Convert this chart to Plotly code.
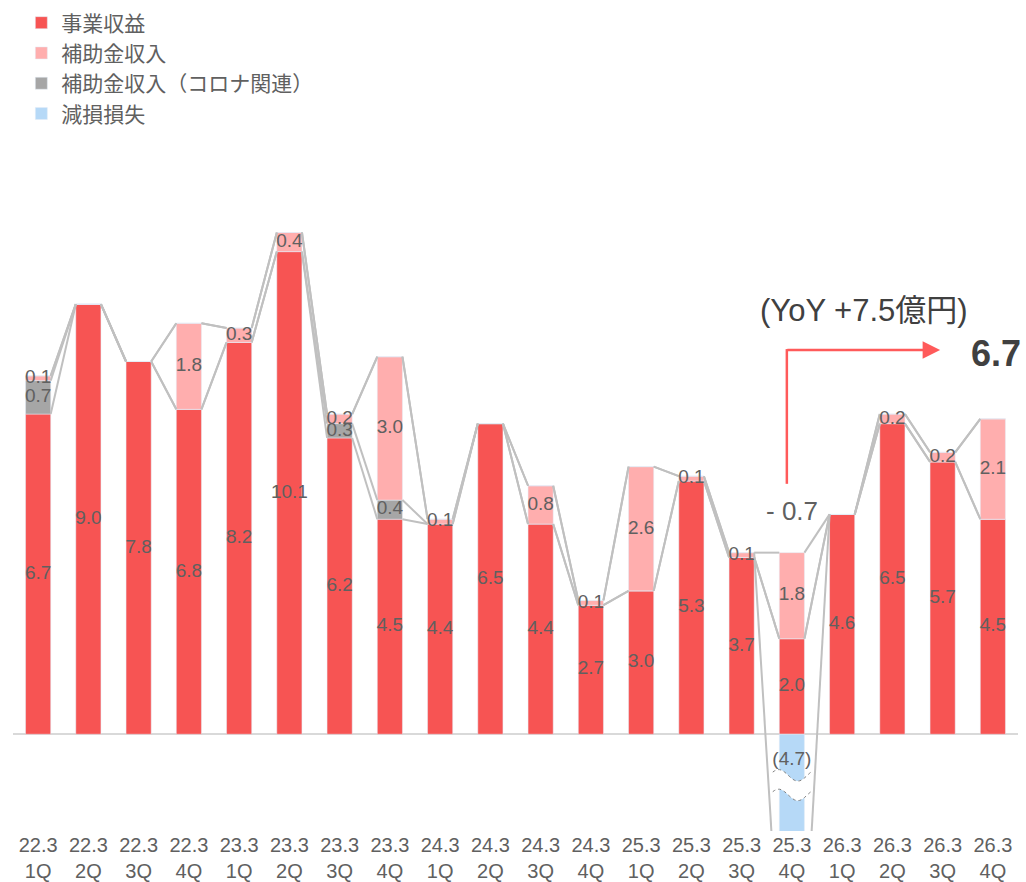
import plotly.graph_objects as go
import numpy as np

categories = ["22.3<br>1Q", "22.3<br>2Q", "22.3<br>3Q", "22.3<br>4Q",
              "23.3<br>1Q", "23.3<br>2Q", "23.3<br>3Q", "23.3<br>4Q",
              "24.3<br>1Q", "24.3<br>2Q", "24.3<br>3Q", "24.3<br>4Q",
              "25.3<br>1Q", "25.3<br>2Q", "25.3<br>3Q", "25.3<br>4Q",
              "26.3<br>1Q", "26.3<br>2Q", "26.3<br>3Q", "26.3<br>4Q"]
business = [6.7, 9.0, 7.8, 6.8, 8.2, 10.1, 6.2, 4.5, 4.4, 6.5,
            4.4, 2.7, 3.0, 5.3, 3.7, 2.0, 4.6, 6.5, 5.7, 4.5]
covid_subsidy = [0.7, 0, 0, 0, 0, 0, 0.3, 0.4, 0, 0,
                 0, 0, 0, 0, 0, 0, 0, 0, 0, 0]
subsidy = [0.1, 0, 0, 1.8, 0.3, 0.4, 0.2, 3.0, 0.1, 0,
           0.8, 0.1, 2.6, 0.1, 0.1, 1.8, 0, 0.2, 0.2, 2.1]
impairment = [0, 0, 0, 0, 0, 0, 0, 0, 0, 0,
              0, 0, 0, 0, 0, -4.7, 0, 0, 0, 0]

RED = "#F75453"
PINK = "#FFAEAE"
GRAY = "#A6A6A6"
BLUE = "#B6D9F7"
TXT = "#606060"
LINE = "#C0C0C0"
FONT = "Liberation Sans, Arial, Noto Sans CJK JP"

n = len(categories)
x = np.arange(n)
bw = 0.5

b = np.array(business)
c = np.array(covid_subsidy)
s = np.array(subsidy)
imp = np.array(impairment)

fig = go.Figure()
fig.add_trace(go.Bar(x=x, y=b, width=bw, marker_color=RED, name="事業収益", legendrank=1))
fig.add_trace(go.Bar(x=x, y=c, width=bw, marker_color=GRAY, name="補助金収入（コロナ関連）", legendrank=3))
fig.add_trace(go.Bar(x=x, y=s, width=bw, marker_color=PINK, name="補助金収入", legendrank=2))
fig.add_trace(go.Bar(x=x, y=imp, width=bw, marker_color=BLUE, name="減損損失", legendrank=4))

# series lines (Excel style) connecting segment tops between neighbouring bars
lvl_red = b
lvl_gray = b + c
lvl_pink = b + c + s
lvl_blue = np.where(imp < 0, imp, lvl_pink)
for lvl in [lvl_red, lvl_gray, lvl_pink, lvl_blue]:
    lx, ly = [], []
    for i in range(n - 1):
        lx += [x[i] + bw / 2, x[i + 1] - bw / 2, None]
        ly += [lvl[i], lvl[i + 1], None]
    fig.add_trace(go.Scatter(x=lx, y=ly, mode="lines", line=dict(color=LINE, width=2),
                             showlegend=False, hoverinfo="skip", cliponaxis=True))

# value labels
tx, ty, tt = [], [], []
for i in range(n):
    base = 0.0
    for v in [b[i], c[i], s[i]]:
        if v > 0:
            tx.append(x[i]); ty.append(base + v / 2); tt.append(f"{v:.1f}")
        base += v
    if imp[i] < 0:
        tx.append(x[i]); ty.append(-0.55); tt.append(f"({-imp[i]:.1f})")
fig.add_trace(go.Scatter(x=tx, y=ty, text=tt, mode="text",
                         textfont=dict(color=TXT, size=19, family=FONT),
                         showlegend=False, hoverinfo="skip"))

# axis break symbol on the impairment bar
ib = int(np.argmin(imp))
def wave(y0, amp=0.12, x0=ib - 0.38, x1=ib + 0.38, k=24):
    xs = np.linspace(x0, x1, k)
    ys = y0 + amp * np.sin((xs - x0) / (x1 - x0) * 2 * np.pi + 0.6)
    return xs, ys
xa, ya = wave(-0.86)
xb, yb = wave(-1.27)
fill_path = "M " + " L ".join(f"{p},{q}" for p, q in zip(xa, ya)) + " L " + \
    " L ".join(f"{p},{q}" for p, q in zip(xb[::-1], yb[::-1])) + " Z"
shapes = [dict(type="path", path=fill_path, xref="x", yref="y", fillcolor="white",
               line=dict(width=0), layer="above")]
for xs, ys in [(xa, ya), (xb, yb)]:
    shapes.append(dict(type="path", path="M " + " L ".join(f"{p},{q}" for p, q in zip(xs, ys)),
                       xref="x", yref="y", line=dict(color="#808080", width=1, dash="dot"),
                       layer="above"))

# YoY arrow
shapes.append(dict(type="line", xref="x", yref="y", x0=14.9, x1=14.9, y0=5.24, y1=8.06,
                   line=dict(color="#FF5A5A", width=2.5)))

annotations = [
    dict(x=17.95, y=8.04, ax=14.88, ay=8.04, xref="x", yref="y", axref="x", ayref="y",
         text="", showarrow=True, arrowhead=2, arrowsize=1.4, arrowwidth=2.5,
         arrowcolor="#FF5A5A"),
    dict(x=16.43, y=8.86, xref="x", yref="y", text="(YoY +7.5億円)", showarrow=False,
         font=dict(size=31, color="#404040", family=FONT)),
    dict(x=19.06, y=7.96, xref="x", yref="y", text="<b>6.7</b>", showarrow=False,
         font=dict(size=36, color="#404040", family=FONT)),
    dict(x=15.0, y=4.68, xref="x", yref="y", text="- 0.7", showarrow=False,
         font=dict(size=26, color=TXT, family=FONT)),
]

fig.update_layout(
    barmode="relative",
    width=1026, height=882,
    margin=dict(l=13, r=8, t=0, b=49),
    plot_bgcolor="white", paper_bgcolor="white",
    font=dict(family=FONT, color=TXT),
    showlegend=True,
    legend=dict(x=0.0083, y=0.997, xanchor="left", yanchor="top",
                traceorder="normal", font=dict(size=21, color=TXT),
                itemclick=False, tracegroupgap=0, bgcolor="rgba(0,0,0,0)"),
    shapes=shapes,
    annotations=annotations,
)
fig.update_xaxes(range=[-0.5, n - 0.5], tickmode="array", tickvals=x, ticktext=categories,
                 showgrid=False, showline=False, ticks="", tickfont=dict(size=20, color=TXT),
                 zeroline=False)
fig.update_yaxes(range=[-2.025, 15.365], showgrid=False, showticklabels=False, zeroline=True,
                 zerolinecolor="#D9D9D9", zerolinewidth=2, showline=False)

fig.write_html("out.html")
